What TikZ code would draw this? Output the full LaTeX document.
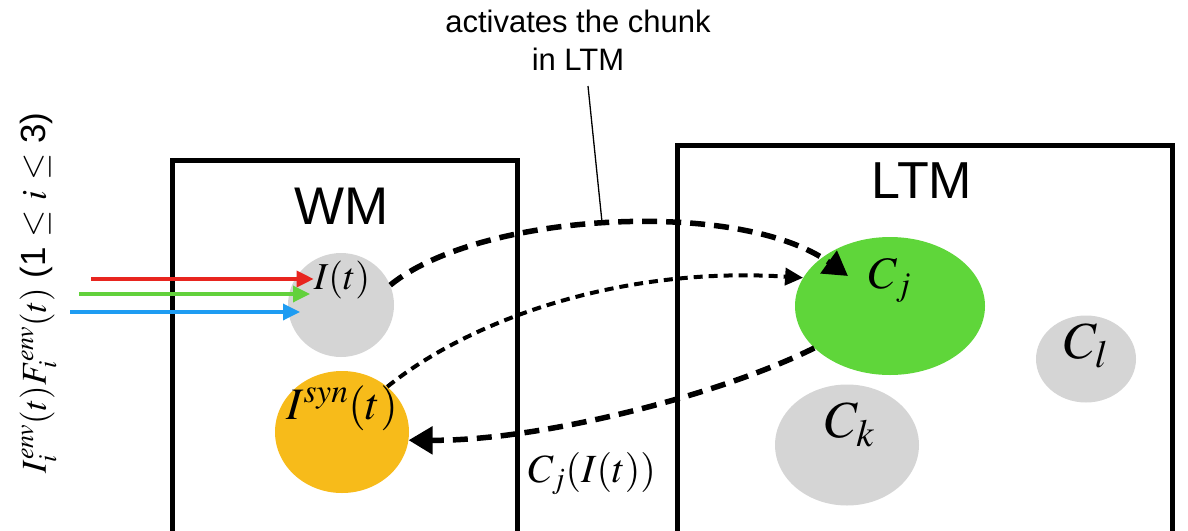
\documentclass[tikz,border=0pt]{standalone}
\usepackage{mathptmx}
\usepackage[no-math]{fontspec}
\setmainfont{Liberation Sans}
\usetikzlibrary{shapes.geometric,arrows.meta,calc}
\definecolor{lgray}{HTML}{D5D5D5}
\definecolor{orng}{HTML}{F7BB1A}
\definecolor{grn}{HTML}{5FD63A}
\definecolor{ared}{HTML}{E8251F}
\definecolor{agrn}{HTML}{62D13C}
\definecolor{ablu}{HTML}{1E9CF2}
\begin{document}
\begin{tikzpicture}[x=1pt,y=-1pt,
  blob/.style={ellipse, inner sep=0pt, draw=none},
  box/.style={draw, line width=4.5pt, rectangle, inner sep=0pt, anchor=north west},
  inarrow/.style={line width=3.4pt, -{Triangle[length=17pt,width=16pt]}},
  bigdash/.style={line width=5.5pt, dash pattern=on 15pt off 9pt, -{Triangle[length=24pt,width=27pt]}},
  smalldash/.style={line width=4pt, dash pattern=on 9pt off 6pt, -{Triangle[length=18pt,width=17pt]}},
  lbl/.style={inner sep=0pt},
]
\path[use as bounding box] (0,0) rectangle (1188,530);
\clip (0,0) rectangle (1188,530);

% boxes
\node[box, minimum width=345pt, minimum height=402pt] (wm) at (170,158) {};
\node[box, minimum width=495pt, minimum height=420pt] (ltm) at (675,143) {};
\node[lbl, font=\fontsize{53}{60}\selectfont] (wmt) at (342,206) {WM};
\node[lbl, font=\fontsize{52}{60}\selectfont] (ltmt) at (922,181) {LTM};

% blobs
\node[blob, fill=lgray, minimum width=106pt, minimum height=104pt] (it) at (341,305) {};
\node[blob, fill=orng, minimum width=134pt, minimum height=122pt] (isyn) at (342,432) {};
\node[blob, fill=grn, minimum width=190pt, minimum height=138pt] (cj) at (890,306) {};
\node[blob, fill=lgray, minimum width=144pt, minimum height=121pt] (ck) at (847,445) {};
\node[blob, fill=lgray, minimum width=100pt, minimum height=87pt] (cl) at (1086,359) {};

\node[lbl, font=\fontsize{38}{40}\selectfont] (itl) at (342,280) {$I(t)$};
\node[lbl, font=\fontsize{45}{48}\selectfont] (isynl) at (342,408) {$I^{syn}(t)$};
\node[lbl, font=\fontsize{45}{48}\selectfont] (cjl) at (890,280) {$C_j$};
\node[lbl, font=\fontsize{52}{56}\selectfont] (ckl) at (850,425) {$C_k$};
\node[lbl, font=\fontsize{52}{56}\selectfont] (cll) at (1086,346) {$C_l$};
\node[lbl, font=\fontsize{40}{44}\selectfont] (cjit) at (592,474) {$C_j(I(t))$};

% rotated input label
\node[lbl, rotate=90, font=\fontsize{35}{40}\selectfont] (env) at (38,293) {$I_i^{env}(t)F_i^{env}(t)$ (1 $\le$ $i$ $\le$ 3)};

% input arrows
\coordinate (rs) at (91,279);
\coordinate (gs) at (79,294);
\coordinate (gt) at (310,294);
\coordinate (bs) at (70,312);
\coordinate (bt) at (300,312);
\draw[inarrow, ared] (rs) -- (itl.west |- rs);
\draw[inarrow, agrn] (gs) -- (gt);
\draw[inarrow, ablu] (bs) -- (bt);

% dashed connectors
\coordinate (cjin) at (848,276);
\draw[bigdash] (it.22) .. controls (480,212) and (740,198) .. (cjin);
\draw[smalldash] (isyn.45) .. controls (470,320) and (620,266) .. (cj.162);
\draw[bigdash] (cj.209) .. controls (720,395) and (540,441) .. (isyn.-7);

% callout
\node[lbl, align=center, font=\fontsize{31}{38}\selectfont] (act) at (578,40) {activates the chunk\\in LTM};
\coordinate (ct) at (588,86);
\coordinate (cp) at (602,222);
\draw[line width=1.3pt] (ct) -- (cp);
\end{tikzpicture}
\end{document}
